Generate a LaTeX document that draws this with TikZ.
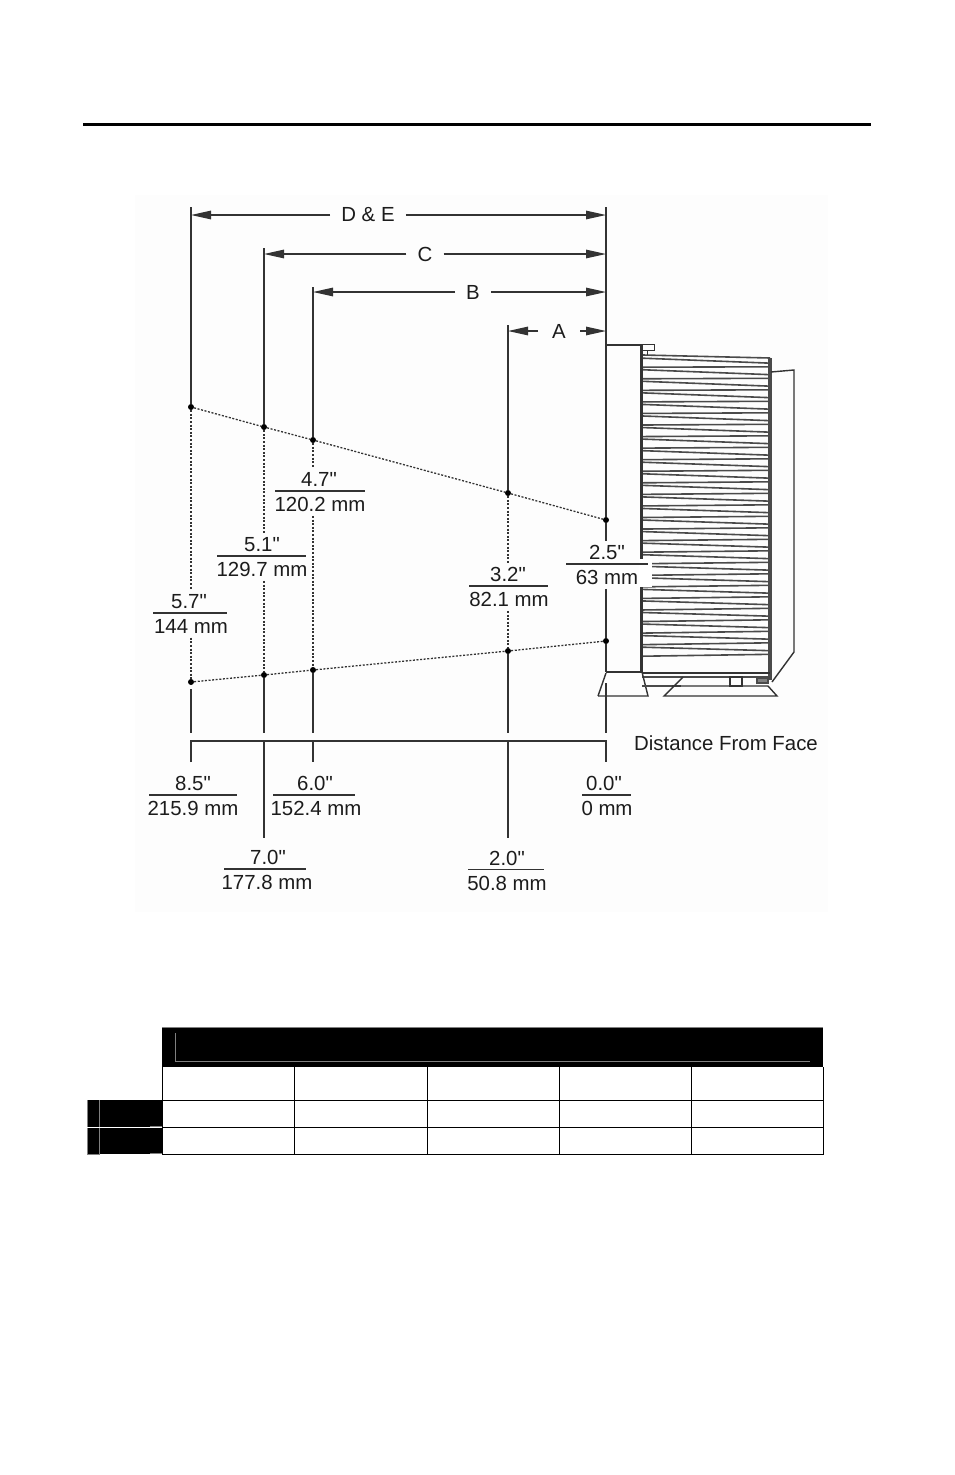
\documentclass[tikz,border=0pt]{standalone}
\usepackage{fontspec}
\newfontfamily\dimfont{Liberation Sans}
\usetikzlibrary{arrows.meta}
\usetikzlibrary{calc}
\definecolor{inkline}{HTML}{333333}
\definecolor{inktext}{HTML}{1C1C1C}
\definecolor{finedge}{HTML}{4A4A4A}
\definecolor{scanpaper}{HTML}{FDFDFD}
\tikzset{
    dimline/.style={draw=inkline, line width=1.3pt},
    dimarrow/.style={dimline, -{Triangle[length=20pt,width=8.5pt]}},
    sightline/.style={draw=inkline, line width=1.3pt, dash pattern=on 2pt off 1.6pt},
    ptdot/.style={circle, fill=black, inner sep=0pt, minimum size=6pt},
    dimtext/.style={text=inktext, font=\dimfont\fontsize{20.4}{24}\selectfont, inner xsep=0pt, inner ysep=4pt},
    letterlabel/.style={dimtext, inner xsep=11pt},
    devline/.style={draw=inkline, line width=1.4pt},
    finline/.style={draw=finedge, line width=1.6pt},
    cellgrid/.style={draw=black, line width=1pt},
    greyedge/.style={draw=gray, line width=1pt},
}
\newcommand{\readout}[8]{ % Takes name, top text x, bottom text x, rule left, rule right, rule y, top text, bottom text
    \node[dimtext] (#1top) at (#2, #6-11.5) {#7};
    \node[dimtext] (#1bot) at (#3, #6+13.5) {#8};
    \coordinate (#1left) at (#4, #6);
    \coordinate (#1right) at (#5, #6);
    \draw[dimline] (#1left) -- (#1right);
}

\begin{document}
\begin{tikzpicture}[x=1pt, y=-1pt]
    \useasboundingbox (0,0) rectangle (954,1475);
    \fill[scanpaper] (135,195) rectangle (828,912);

    % Page rule
    \coordinate (ruleL) at (83,124);
    \coordinate (ruleR) at (871,124);
    \draw[line width=3pt, black] (ruleL) -- (ruleR);

    % Device fins
    \foreach \i [evaluate=\i as \yl using 362.7+\i*11.56, evaluate=\i as \yr using 365+\i*11.5] in {0,...,25} {
        \draw[finline] (643,\yl-4.5) -- (771,\yr-1.8) -- (771,\yr+1.8) -- (643,\yl+4.5);
    }

    % Device body
    \draw[line width=2.5pt, inkline] (641.5,345) -- (641.5,672);
    \draw[line width=4pt, finedge] (770,358) -- (770,680);
    \draw[line width=1.6pt, finedge] (643,355) -- (770,358);
    \draw[devline, line width=2.2pt] (607,345) -- (641,345);
    \draw[devline, line width=1pt] (641,344) rectangle (654,350);
    \draw[devline, line width=1pt] (647,350) -- (647,355);
    \draw[devline] (771,372) -- (794,370) -- (794,652) -- (772,682);
    \draw[devline] (606,672) -- (642,672);
    \draw[devline] (642,673) -- (770,673);
    \draw[finline] (642,677) -- (770,677);
    \draw[devline] (598,696) -- (648,696) -- (642,672);
    \draw[devline] (606,673) -- (598,696);
    \draw[finline] (642,686) -- (681,686);
    \draw[devline] (683,677) -- (664,696) -- (777,696) -- (768,686) -- (672,686);
    \draw[devline] (730,677) rectangle (742,686);
    \draw[finline, fill=gray] (757,678) rectangle (768,683);
    \fill[white] (639,559) rectangle (652,587);

    % Sight points
    \node[ptdot] (topD) at (191,407) {};
    \node[ptdot] (topC) at (264,427) {};
    \node[ptdot] (topB) at (313,440) {};
    \node[ptdot] (topA) at (508,493) {};
    \node[ptdot] (topF) at (606,520) {};
    \node[ptdot] (lowD) at (191,682) {};
    \node[ptdot] (lowC) at (264,675) {};
    \node[ptdot] (lowB) at (313,670) {};
    \node[ptdot] (lowA) at (508,651) {};
    \node[ptdot] (lowF) at (606,641) {};
    \draw[sightline] (topD) -- (topC) -- (topB) -- (topA) -- (topF);
    \draw[sightline] (lowD) -- (lowC) -- (lowB) -- (lowA) -- (lowF);

    % Width readouts
    \readout{wD}{189}{191}{153}{227}{613}{5.7"}{144 mm}
    \readout{wC}{262}{262}{217}{306}{556}{5.1"}{129.7 mm}
    \readout{wB}{319}{320}{275}{365}{491}{4.7"}{120.2 mm}
    \readout{wA}{508}{509}{469}{548}{586}{3.2"}{82.1 mm}
    \readout{wF}{607}{607}{566}{648}{564}{2.5"}{63 mm}

    % Distance readouts
    \readout{dD}{193}{193}{149}{237}{795}{8.5"}{215.9 mm}
    \readout{dB}{315}{316}{273}{355}{795}{6.0"}{152.4 mm}
    \readout{dF}{604}{607}{582}{631}{795}{0.0"}{0 mm}
    \readout{dC}{268}{267}{224}{306}{869}{7.0"}{177.8 mm}
    \readout{dA}{507}{507}{468}{544}{869.5}{2.0"}{50.8 mm}
    \node[dimtext] (faceLabel) at (726,743) {Distance From Face};

    % Dotted parts of the verticals
    \draw[sightline] (topD) -- (topD |- wDtop.north);
    \draw[sightline] (topD |- wDbot.south) -- (lowD);
    \draw[sightline] (topC) -- (topC |- wCtop.north);
    \draw[sightline] (topC |- wCbot.south) -- (lowC);
    \draw[sightline] (topB) -- (topB |- wBtop.north);
    \draw[sightline] (topB |- wBbot.south) -- (lowB);
    \draw[sightline] (topA) -- (topA |- wAtop.north);
    \draw[sightline] (topA |- wAbot.south) -- (lowA);

    % Solid verticals
    \coordinate (startD) at (191,207);
    \coordinate (startC) at (264,248);
    \coordinate (startB) at (313,287);
    \coordinate (startA) at (508,325);
    \coordinate (startF) at (606,207);
    \coordinate (faceTop) at (606,345);
    \coordinate (stopBar) at (606,733);
    \draw[dimline] (startD) -- (topD);
    \draw[dimline] (startC) -- (topC);
    \draw[dimline] (startB) -- (topB);
    \draw[dimline] (startA) -- (topA);
    \draw[dimline] (startF) -- (faceTop) -- (topF) -- (topF |- wFtop.north);
    \draw[dimline] (topF |- wFbot.south) -- (lowF) -- (606,672);
    \draw[dimline] (606,683) -- (stopBar);
    \draw[dimline] (lowD) ++(0,7) -- (lowD |- stopBar);
    \draw[dimline] (lowC) -- (lowC |- stopBar);
    \draw[dimline] (lowB) -- (lowB |- stopBar);
    \draw[dimline] (lowA) -- (lowA |- stopBar);

    % Distance bar
    \coordinate (barD) at (191,741);
    \coordinate (barC) at (264,741);
    \coordinate (barB) at (313,741);
    \coordinate (barA) at (508,741);
    \coordinate (barF) at (606,741);
    \coordinate (tickEnd) at (191,762);
    \coordinate (longEnd) at (264,838);
    \draw[dimline] (tickEnd) -- (barD) -- (barC) -- (barB) -- (barA) -- (barF) -- (barF |- tickEnd);
    \draw[dimline] (barB) -- (barB |- tickEnd);
    \draw[dimline] (barC) -- (longEnd);
    \draw[dimline] (barA) -- (barA |- longEnd);

    % Lettered arrows
    \node[letterlabel] (labelDE) at (368,215) {D \& E};
    \node[letterlabel] (labelC) at (425,254) {C};
    \node[letterlabel] (labelB) at (473,292) {B};
    \node[letterlabel, inner xsep=14pt] (labelA) at (559,331) {A};
    \draw[dimarrow] (labelDE) -- (startD |- labelDE);
    \draw[dimarrow] (labelDE) -- (startF |- labelDE);
    \draw[dimarrow] (labelC) -- (startC |- labelC);
    \draw[dimarrow] (labelC) -- (startF |- labelC);
    \draw[dimarrow] (labelB) -- (startB |- labelB);
    \draw[dimarrow] (labelB) -- (startF |- labelB);
    \draw[dimarrow] (labelA) -- (startA |- labelA);
    \draw[dimarrow] (labelA) -- (startF |- labelA);

    % Table
    \fill[black] (162,1027) rectangle (823,1067);
    \fill[black] (87,1100) rectangle (162,1154);
    \draw[greyedge] (162,1027) -- (823,1027);
    \draw[greyedge] (175,1033) -- (175,1061) -- (810,1061);
    \draw[greyedge] (87,1100) -- (87,1154) -- (100,1154);
    \draw[greyedge] (99.5,1100) -- (99.5,1154);
    \draw[greyedge] (150,1126) -- (162,1126);
    \draw[greyedge] (150,1153.5) -- (162,1153.5);
    \draw[white, line width=1pt] (87,1127) -- (162,1127);
    \foreach \col in {162,294,427,559,691,823} {
        \draw[cellgrid] (\col,1067) -- (\col,1154.5);
    }
    \foreach \row in {1100,1127,1154} {
        \draw[cellgrid] (162,\row) -- (823,\row);
    }
\end{tikzpicture}
\end{document}
